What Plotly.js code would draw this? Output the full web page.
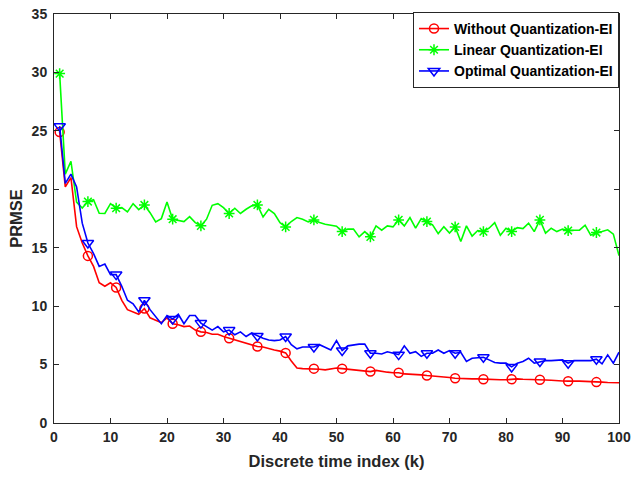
<!DOCTYPE html>
<html>
<head>
<meta charset="utf-8">
<script src="https://cdn.plot.ly/plotly-3.0.1.min.js"></script>
<style>html,body{margin:0;padding:0;background:#fff;}#chart{width:635px;height:477px;}</style>
</head>
<body>
<div id="chart"></div>
<script>
// Discrete time index k = 1..100
const timeIndex = Array.from({length: 100}, (_, i) => i + 1);

const withoutQuantization = [
  24.9, 20.2, 21.0, 16.8, 15.4, 14.3, 13.4, 12.0, 11.7, 12.0,
  11.6, 10.5, 9.7, 9.5, 9.3, 9.8, 9.0, 8.8, 8.6, 9.0,
  8.5, 8.4, 8.25, 8.3, 7.95, 7.8, 7.75, 7.6, 7.6, 7.4,
  7.25, 7.15, 7.0, 6.8, 6.7, 6.55, 6.5, 6.35, 6.25, 6.15,
  6.0, 5.3, 4.7, 4.65, 4.65, 4.65, 4.6, 4.55, 4.6, 4.7,
  4.65, 4.6, 4.6, 4.5, 4.45, 4.4, 4.5, 4.4, 4.35, 4.3,
  4.3, 4.2, 4.18, 4.2, 4.12, 4.06, 4.03, 3.98, 3.92, 3.89,
  3.83, 3.8, 3.82, 3.78, 3.78, 3.75, 3.78, 3.74, 3.7, 3.7,
  3.75, 3.78, 3.74, 3.74, 3.7, 3.7, 3.68, 3.66, 3.6, 3.6,
  3.58, 3.6, 3.58, 3.56, 3.52, 3.5, 3.5, 3.47, 3.46, 3.44
];

const linearQuantization = [
  29.9, 21.3, 22.4, 18.9, 18.4, 18.95, 19.1, 17.95, 17.93, 18.77,
  18.38, 18.43, 18.06, 18.77, 18.26, 18.66, 18.0, 17.21, 17.49, 18.91,
  17.44, 17.35, 17.24, 17.66, 17.15, 16.87, 17.44, 18.63, 18.77, 18.43,
  17.93, 18.38, 17.93, 18.29, 18.58, 18.66, 17.63, 18.29, 17.92, 17.15,
  16.78, 17.24, 17.58, 17.44, 17.21, 17.38, 17.15, 17.01, 16.93, 16.84,
  16.38, 16.59, 16.59, 15.93, 16.38, 15.93, 16.87, 16.5, 16.87, 16.78,
  17.38, 16.87, 17.58, 16.67, 17.49, 17.24, 16.95, 16.21, 16.8, 16.25,
  16.78, 15.53, 16.87, 15.99, 16.47, 16.38, 16.67, 17.15, 16.07, 16.67,
  16.38, 16.72, 16.64, 17.1, 16.38, 17.38, 16.25, 16.67, 16.38, 16.59,
  16.47, 16.5, 16.5, 16.93, 16.07, 16.3, 16.38, 16.53, 16.16, 14.32
];

const optimalQuantization = [
  25.4, 20.5, 21.3, 20.2, 17.1, 15.4, 14.5, 13.4, 13.6, 12.7,
  12.7, 11.7, 10.5, 10.2, 9.5, 10.5, 9.7, 9.1, 8.5, 9.2,
  8.9, 9.3, 8.5, 9.2, 9.2, 8.55, 8.25, 7.95, 8.25, 7.8,
  7.95, 7.55, 7.8, 7.4, 7.7, 7.45, 7.25, 7.1, 7.05, 7.1,
  7.4, 6.7, 6.35, 6.5, 6.5, 6.5, 6.7, 6.5, 6.25, 7.05,
  6.2, 6.6, 6.7, 6.75, 6.75, 5.97, 5.97, 5.9, 6.1, 5.97,
  5.85, 6.6, 5.97, 6.1, 5.7, 5.97, 5.97, 6.25, 5.97, 6.2,
  5.97, 6.05, 5.26, 5.54, 5.6, 5.63, 5.4, 5.17, 5.12, 5.12,
  4.8, 5.12, 5.26, 5.54, 5.12, 5.26, 5.34, 5.34, 5.34, 5.4,
  5.12, 5.34, 5.34, 5.34, 5.34, 5.46, 5.06, 5.83, 5.12, 6.06
];

const seriesNames = ['Without Quantization-EI', 'Linear Quantization-EI', 'Optimal Quantization-EI'];
const xTickValues = [0, 10, 20, 30, 40, 50, 60, 70, 80, 90, 100];
const yTickValues = [0, 5, 10, 15, 20, 25, 30, 35];

const FONT = 'Liberation Sans, Arial, Helvetica, sans-serif';
const styles = [
  {color: '#ff0000', symbol: 'circle-open', size: 9},
  {color: '#00ff00', symbol: 'asterisk-open', size: 9},
  {color: '#0000ff', symbol: 'triangle-down-open', size: 10}
];
const allSeries = [withoutQuantization, linearQuantization, optimalQuantization];

const traces = [];
allSeries.forEach((vals, s) => {
  const st = styles[s];
  // continuous line
  traces.push({
    x: timeIndex, y: vals, type: 'scatter', mode: 'lines',
    line: {color: st.color, width: 1.6},
    showlegend: false, hoverinfo: 'skip'
  });
  // markers every 5th point (isolated points draw no line segments)
  traces.push({
    x: timeIndex, y: vals.map((v, i) => (i % 5 === 0 ? v : null)),
    type: 'scatter', mode: 'lines+markers', connectgaps: false,
    name: seriesNames[s],
    line: {color: st.color, width: 1.6},
    marker: {symbol: st.symbol, size: st.size, color: st.color, line: {color: st.color, width: 1.5}}
  });
});

const axisCommon = {
  showgrid: false, zeroline: false, showline: true, linecolor: '#262626', linewidth: 1,
  mirror: 'ticks', ticks: 'inside', ticklen: 5, tickwidth: 1, tickcolor: '#262626',
  tickfont: {family: FONT, size: 14, color: '#262626', weight: 'bold'}
};

const layout = {
  width: 635, height: 477,
  margin: {l: 54, r: 16, t: 12, b: 54},
  paper_bgcolor: '#ffffff', plot_bgcolor: '#ffffff',
  font: {family: FONT},
  xaxis: Object.assign({}, axisCommon, {
    range: [0, 100], tickmode: 'array', tickvals: xTickValues,
    ticklabelstandoff: 1,
    title: {text: 'Discrete time index (k)', standoff: 11,
      font: {family: FONT, size: 16.5, color: '#262626', weight: 'bold'}}
  }),
  yaxis: Object.assign({}, axisCommon, {
    range: [0, 35], tickmode: 'array', tickvals: yTickValues,
    ticklabelstandoff: 3,
    title: {text: 'PRMSE', standoff: 4,
      font: {family: FONT, size: 16.5, color: '#262626', weight: 'bold'}}
  }),
  legend: {
    x: 1, xanchor: 'right', y: 1.005, yanchor: 'top',
    bgcolor: '#ffffff', bordercolor: '#262626', borderwidth: 1,
    font: {family: FONT, size: 14, color: '#000000', weight: 'bold'},
    tracegroupgap: 0
  },
  showlegend: true
};

Plotly.newPlot('chart', traces, layout, {displayModeBar: false, staticPlot: true});
</script>
</body>
</html>
